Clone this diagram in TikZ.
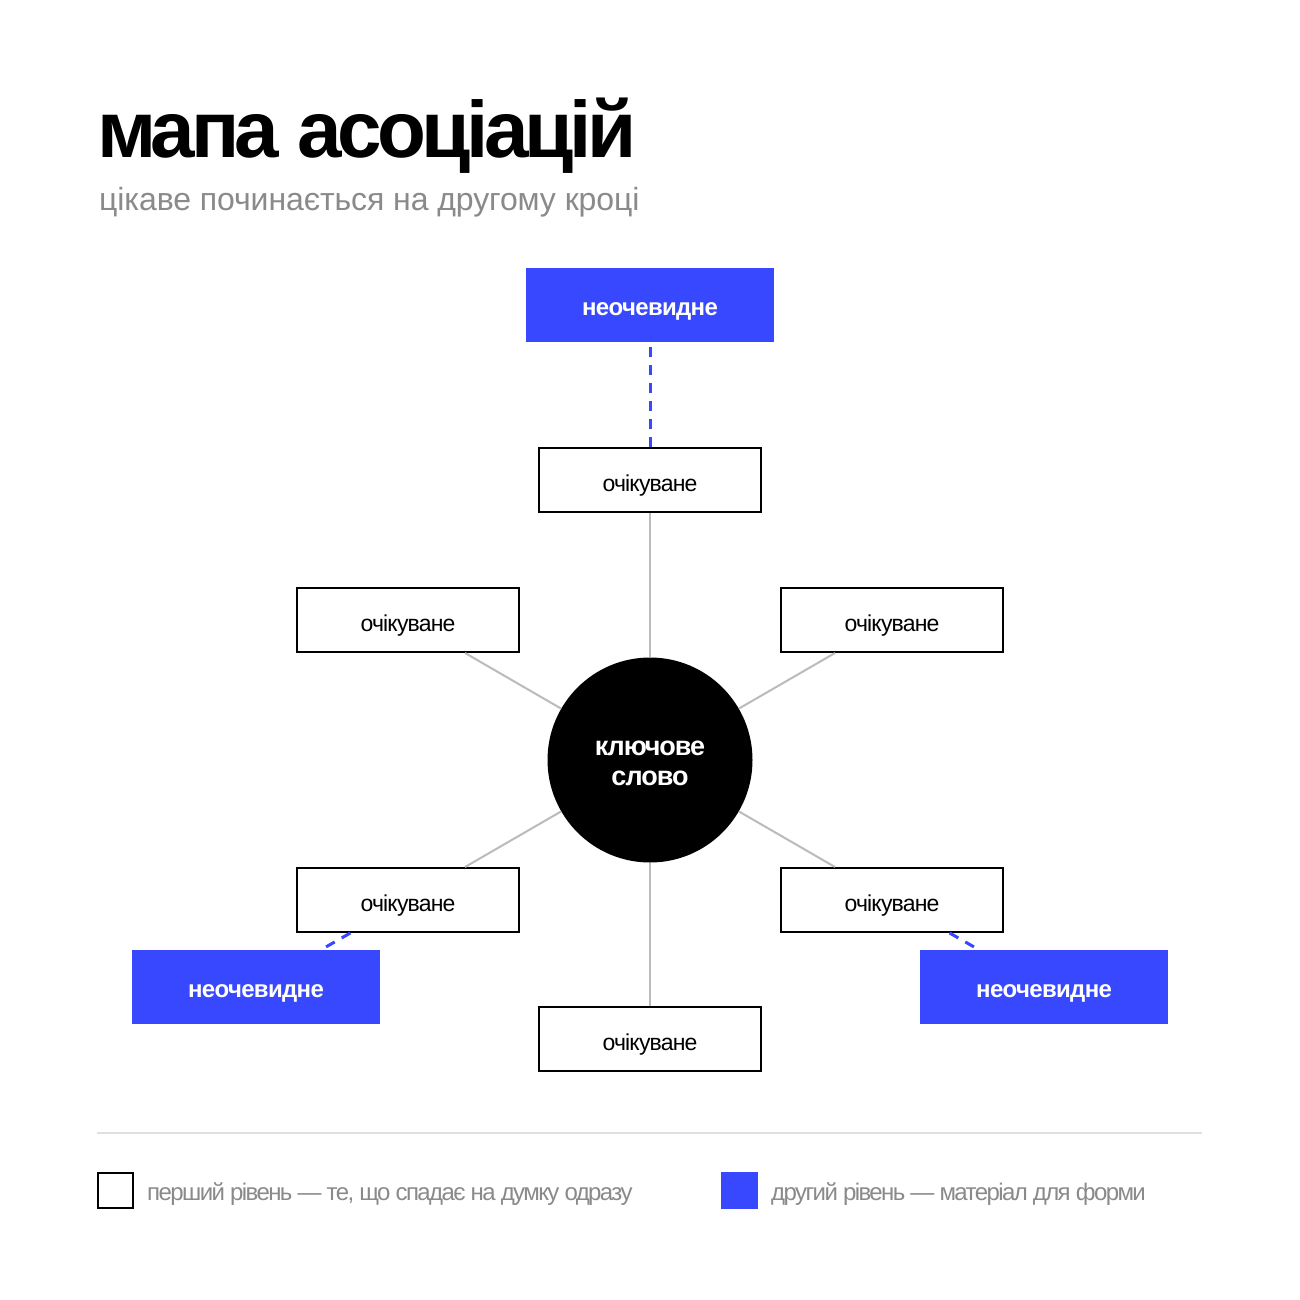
\documentclass[tikz,border=0pt]{standalone}
\usepackage{fontspec}
\setmainfont{Liberation Sans}
\definecolor{accent}{HTML}{3848FF}
\definecolor{softgray}{HTML}{8A8A8A}
\definecolor{linkgray}{HTML}{BBBBBB}
\definecolor{rulegray}{HTML}{E0E0E0}
\begin{document}
\begin{tikzpicture}[x=1pt,y=-1pt,
    first/.style={draw=black, line width=2pt, fill=white, inner sep=0pt,
        minimum width=222pt, minimum height=64pt, text height=23pt, text depth=0pt,
        font=\fontsize{23}{26}\selectfont\addfontfeature{LetterSpace=-3.5}},
    second/.style={fill=accent, text=white, inner sep=0pt,
        minimum width=248pt, minimum height=74pt, text height=20pt, text depth=0pt,
        font=\fontsize{24}{27}\selectfont\bfseries\addfontfeature{LetterSpace=-2.8}},
    link/.style={draw=linkgray, line width=2pt},
    hint/.style={draw=accent, line width=3pt, dash pattern=on 10pt off 8pt},
    legendtext/.style={anchor=base west, inner sep=0pt, text=softgray,
        font=\fontsize{24}{27}\selectfont\addfontfeature{LetterSpace=-6.6}}]
    \useasboundingbox[fill=white] (0,0) rectangle (1300,1300);
    % title
    \node[anchor=base west, inner sep=0pt,
        font=\fontsize{80}{90}\selectfont\bfseries\addfontfeature{LetterSpace=-5.5}]
        (title) at (97,158) {мапа асоціацій};
    \node[anchor=base west, inner sep=0pt, text=softgray,
        font=\fontsize{32}{36}\selectfont\addfontfeature{LetterSpace=-0.3}]
        (subtitle) at (99,211) {цікаве починається на другому кроці};
    % map
    \node[circle, fill=black, text=white, minimum size=205pt, inner sep=0pt, align=center,
        text height=50pt, text depth=0pt,
        font=\fontsize{27}{30}\selectfont\bfseries\addfontfeature{LetterSpace=-3.7}]
        (key) at (650,760) {ключове\\слово};
    \node[first] (top)    at (650,480)  {очікуване};
    \node[first] (upleft) at (408,620)  {очікуване};
    \node[first] (upright) at (892,620) {очікуване};
    \node[first] (lowleft) at (408,900) {очікуване};
    \node[first] (lowright) at (892,900) {очікуване};
    \node[first] (bottom) at (650,1039) {очікуване};
    \node[second] (hinttop)   at (650,305)  {неочевидне};
    \node[second] (hintleft)  at (256,987)  {неочевидне};
    \node[second] (hintright) at (1044,987) {неочевидне};
    \draw[link] (key) -- (top);
    \draw[link] (key) -- (upleft);
    \draw[link] (key) -- (upright);
    \draw[link] (key) -- (lowleft);
    \draw[link] (key) -- (lowright);
    \draw[link] (key) -- (bottom);
    \draw[hint] (top) -- (hinttop);
    \draw[hint] (lowleft) -- (hintleft);
    \draw[hint] (lowright) -- (hintright);
    % legend
    \draw[draw=rulegray, line width=2pt] (97,1133) -- (1202,1133);
    \node[draw=black, line width=2pt, minimum size=35pt, inner sep=0pt] (keyfirst) at (115.5,1190.5) {};
    \node[legendtext] (labelfirst) at (147,1200) {перший рівень — те, що спадає на думку одразу};
    \node[fill=accent, minimum size=37pt, inner sep=0pt] (keysecond) at (739.5,1190.5) {};
    \node[legendtext] (labelsecond) at (771,1200) {другий рівень — матеріал для форми};
\end{tikzpicture}
\end{document}
